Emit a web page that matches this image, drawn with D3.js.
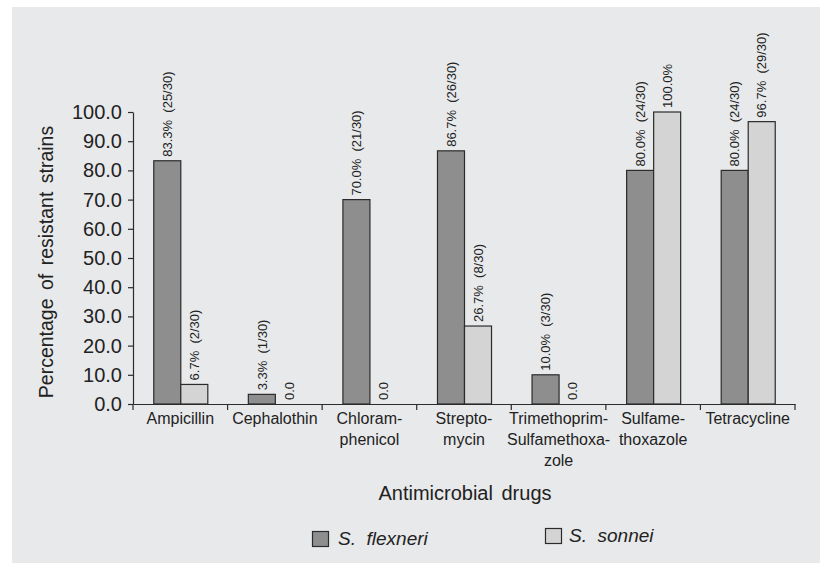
<!DOCTYPE html>
<html>
<head>
<meta charset="utf-8">
<script src="https://cdn.jsdelivr.net/npm/d3@7"></script>
<style>
  html, body { margin: 0; padding: 0; background: #ffffff; }
  svg { display: block; font-family: Arial, "Liberation Sans", Helvetica, sans-serif; }
</style>
</head>
<body>
<svg id="chart" width="820" height="563"></svg>
<script>
const categories = ["Ampicillin", "Cephalothin", "Chloramphenicol", "Streptomycin",
  "Trimethoprim-Sulfamethoxazole", "Sulfamethoxazole", "Tetracycline"];
const categoryLines = [["Ampicillin"], ["Cephalothin"], ["Chloram-", "phenicol"],
  ["Strepto-", "mycin"], ["Trimethoprim-", "Sulfamethoxa-", "zole"],
  ["Sulfame-", "thoxazole"], ["Tetracycline"]];
const seriesNames = ["S. flexneri", "S. sonnei"];
const flexneriValues = [83.3, 3.3, 70.0, 86.7, 10.0, 80.0, 80.0];
const sonneiValues = [6.7, 0.0, 0.0, 26.7, 0.0, 100.0, 96.7];
const flexneriLabels = ["83.3% (25/30)", "3.3% (1/30)", "70.0% (21/30)", "86.7% (26/30)",
  "10.0% (3/30)", "80.0% (24/30)", "80.0% (24/30)"];
const sonneiLabels = ["6.7% (2/30)", "0.0", "0.0", "26.7% (8/30)", "0.0", "100.0%", "96.7% (29/30)"];
const yTickValues = [0, 10, 20, 30, 40, 50, 60, 70, 80, 90, 100];
const xTitle = "Antimicrobial drugs";
const yTitle = "Percentage of resistant strains";

const colors = { "S. flexneri": "#8e8e8e", "S. sonnei": "#d4d4d4" };
const strokeCol = "#2b2b2b";
const textCol = "#222222";

const svg = d3.select("#chart");
svg.append("rect").attr("x", 12).attr("y", 7).attr("width", 808).attr("height", 556)
  .attr("fill", "#e8e9eb");

const y = d3.scaleLinear().domain([0, 100]).range([404, 112]);
const x = d3.scaleBand().domain(categories).range([133, 795]).padding(0);
const x1 = d3.scaleBand().domain(seriesNames).range([0, x.bandwidth()])
  .paddingInner(0).paddingOuter(0.75);

const data = categories.map((c, i) => ({
  cat: c,
  vals: [
    { s: seriesNames[0], v: flexneriValues[i], label: flexneriLabels[i] },
    { s: seriesNames[1], v: sonneiValues[i], label: sonneiLabels[i] }
  ]
}));

// bars
const groups = svg.append("g").selectAll("g").data(data).join("g")
  .attr("transform", d => `translate(${x(d.cat)},0)`);

groups.selectAll("rect").data(d => d.vals.filter(e => e.v > 0)).join("rect")
  .attr("x", d => x1(d.s) + 0.5)
  .attr("y", d => y(d.v))
  .attr("width", x1.bandwidth())
  .attr("height", d => y(0) - y(d.v))
  .attr("fill", d => colors[d.s])
  .attr("stroke", strokeCol)
  .attr("stroke-width", 1.2);

// value labels
groups.selectAll("text").data(d => d.vals).join("text")
  .attr("transform", d => `translate(${x1(d.s) + x1.bandwidth() / 2 + 0.5},${y(d.v) - 4}) rotate(-90)`)
  .attr("dy", "0.36em")
  .attr("text-anchor", "start")
  .attr("font-size", 13)
  .attr("fill", textCol)
  .style("white-space", "pre")
  .text(d => d.label.replace(" ", "  "));

// y axis
const yAxis = d3.axisLeft(y).tickValues(yTickValues).tickFormat(d3.format(".1f"))
  .tickSize(5).tickSizeOuter(0).tickPadding(6);
const gy = svg.append("g").attr("transform", "translate(133,0)").call(yAxis);
gy.select(".domain").attr("stroke", strokeCol).attr("stroke-width", 1.2);
gy.selectAll(".tick line").attr("stroke", strokeCol).attr("stroke-width", 1.2);
gy.selectAll(".tick text").attr("font-size", 20).attr("fill", textCol)
  .attr("font-family", "Arial, 'Liberation Sans', sans-serif");

// x axis: baseline and boundary ticks
const xAxis = d3.axisBottom(x).tickSize(0).tickFormat("").tickSizeOuter(0);
const gx = svg.append("g").attr("transform", `translate(0,${y(0)})`).call(xAxis);
gx.select(".domain").attr("stroke", strokeCol).attr("stroke-width", 1.2);
const boundaries = categories.map(c => x(c)).concat([x.range()[1]]);
gx.append("g").selectAll("line").data(boundaries).join("line")
  .attr("x1", d => d).attr("x2", d => d).attr("y1", 0).attr("y2", 6)
  .attr("stroke", strokeCol).attr("stroke-width", 1.2);

// x category labels
const lab = svg.append("g").selectAll("text").data(categories).join("text")
  .attr("x", c => x(c) + x.bandwidth() / 2)
  .attr("y", 424)
  .attr("text-anchor", "middle")
  .attr("font-size", 16)
  .attr("fill", textCol);
lab.each(function (c, i) {
  d3.select(this).selectAll("tspan").data(categoryLines[i]).join("tspan")
    .attr("x", x(c) + x.bandwidth() / 2)
    .attr("dy", (d, j) => j === 0 ? 0 : 21)
    .text(d => d);
});

// axis titles
svg.append("text").attr("x", 465).attr("y", 500).attr("text-anchor", "middle")
  .attr("font-size", 20).attr("fill", textCol).style("word-spacing", "3px").text(xTitle);
svg.append("text").attr("transform", "translate(53,262) rotate(-90)")
  .attr("text-anchor", "middle").attr("font-size", 19.5).attr("fill", textCol)
  .style("word-spacing", "3px").text(yTitle);

// legend
const legendItems = [
  { s: seriesNames[0], rx: 312, ry: 531, tx: 338, ty: 545 },
  { s: seriesNames[1], rx: 545, ry: 528, tx: 569, ty: 542 }
];
const lg = svg.append("g").selectAll("g").data(legendItems).join("g");
lg.append("rect").attr("x", d => d.rx + 0.5).attr("y", d => d.ry + 0.5)
  .attr("width", 16).attr("height", 15)
  .attr("fill", d => colors[d.s]).attr("stroke", strokeCol).attr("stroke-width", 1.2);
lg.append("text").attr("x", d => d.tx).attr("y", d => d.ty)
  .attr("font-size", 19).attr("font-style", "italic").attr("fill", textCol)
  .style("white-space", "pre")
  .text(d => d.s.replace(" ", "  "));
</script>
</body>
</html>
